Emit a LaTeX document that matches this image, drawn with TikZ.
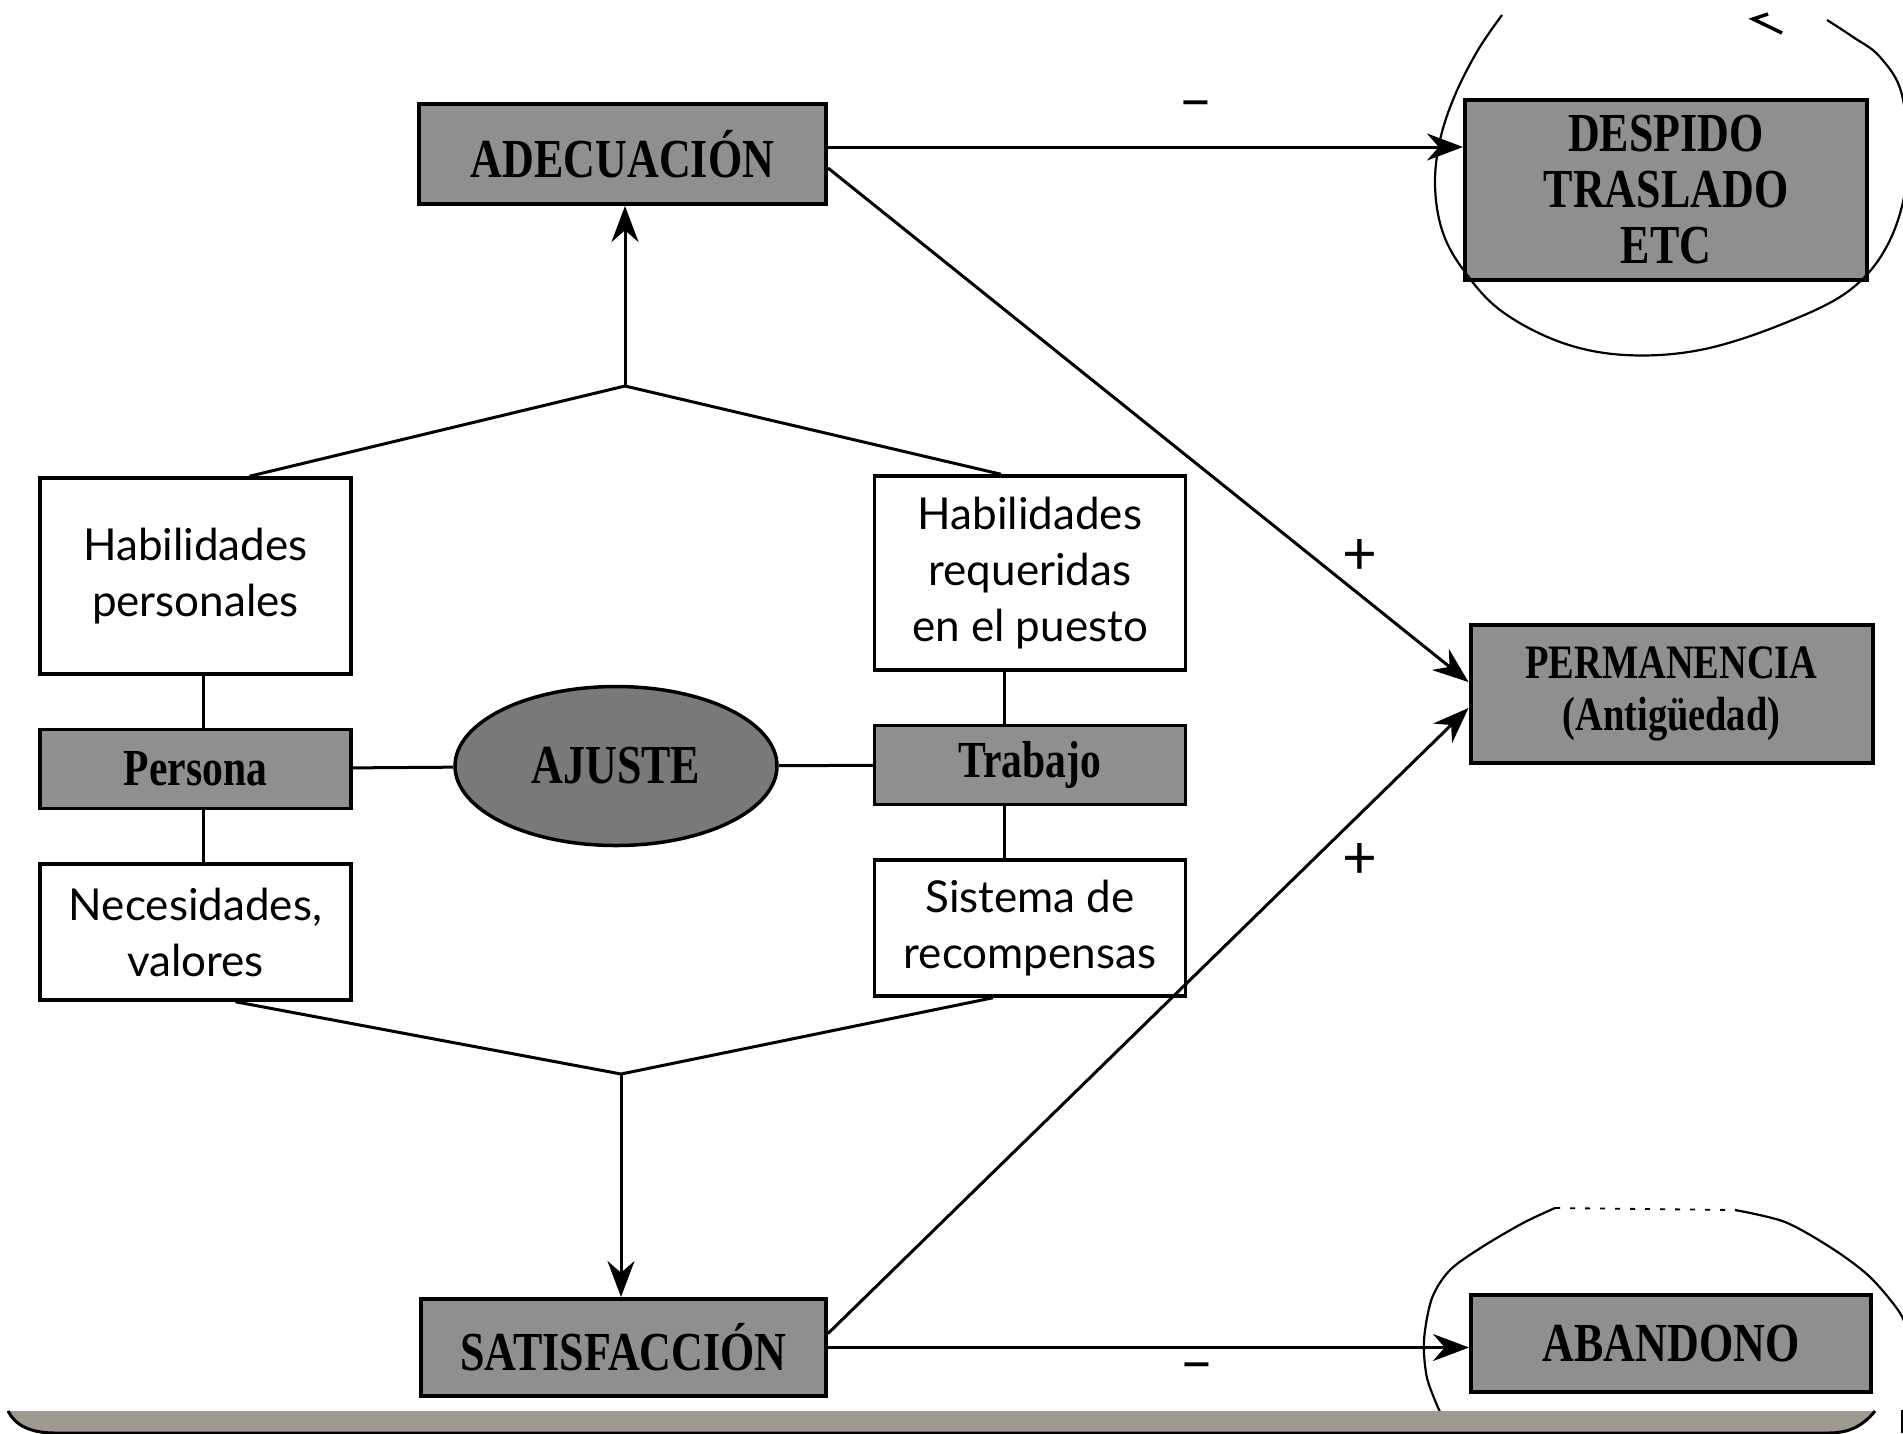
\documentclass[tikz,border=0pt]{standalone}
\usepackage{fontspec}
\usetikzlibrary{positioning, shapes.geometric, arrows.meta}

\newfontfamily\headfont[FakeStretch=0.8]{Liberation Serif}
\newfontfamily\boxfont{Lato}
\definecolor{headgrey}{gray}{0.56}
\definecolor{bandgrey}{HTML}{9E9A90}

\begin{document}
\begin{tikzpicture}[
  x=1pt, y=-1pt,
  line width=3pt,
  head/.style={
    draw,
    line width=4pt,
    fill=headgrey,
    align=center,
    inner sep=0pt,
    font=\headfont\bfseries\fontsize{55}{56}\selectfont
  },
  result/.style={head, minimum width=402pt},
  factor/.style={
    draw,
    line width=3.5pt,
    fill=headgrey,
    minimum width=311pt,
    minimum height=79pt,
    font=\headfont\bfseries\fontsize{52}{54}\selectfont
  },
  trait/.style={
    draw,
    line width=3.5pt,
    fill=white,
    align=center,
    minimum width=311pt,
    font=\boxfont\fontsize{44}{56}\selectfont
  },
  sign/.style={font=\boxfont\fontsize{60}{60}\selectfont},
  handloop/.style={line width=2.2pt},
  >={Stealth[length=36pt, width=27pt]},
  node distance=52pt
]
\useasboundingbox (0,0) rectangle (1903,1433);

% Adecuacion
\node[head, minimum width=407pt, minimum height=100pt] (adecuacion) at (622.5,154) {ADECUACIÓN};

% Despido
\node[result, minimum height=180pt] (despido) at (1666,190) {DESPIDO\\TRASLADO\\ETC};

% Permanencia
\node[result, minimum height=138pt,
  font=\headfont\bfseries\fontsize{48}{52}\selectfont] (permanencia) at (1671.5,694) {PERMANENCIA\\(Antigüedad)};

% Satisfaccion
\node[head, minimum width=405pt, minimum height=97pt] (satisfaccion) at (623.5,1347.5) {SATISFACCIÓN};

% Abandono
\node[result, minimum width=400pt, minimum height=97pt] (abandono) at (1671,1343.5) {ABANDONO};

% Persona
\node[trait, minimum height=196pt] (habper) at (195.5,576) {Habilidades\\personales};
\node[factor, below=of habper] (persona) {Persona};
\node[trait, minimum height=136pt, below=of persona] (necesidades) {Necesidades,\\valores};

% Trabajo
\node[trait, minimum height=194pt] (habreq) at (1030,573) {Habilidades\\requeridas\\en el puesto};
\node[factor, below=of habreq] (trabajo) {Trabajo};
\node[trait, minimum height=136pt, below=of trabajo] (sistema) {Sistema de\\recompensas};

% Ajuste
\node[ellipse, draw, line width=3.5pt, fill=headgrey!85!black, inner sep=0pt,
  minimum width=322pt, minimum height=159pt,
  font=\headfont\bfseries\fontsize{55}{56}\selectfont] (ajuste) at (616,766) {AJUSTE};

\coordinate (topjoin) at (625,386);
\coordinate (botjoin) at (621,1074);
\coordinate (leftcol) at (203,0);
\coordinate (rightcol) at (1004,0);

% Links
\draw (habper.south -| leftcol) -- (persona.north -| leftcol);
\draw (persona.south -| leftcol) -- (necesidades.north -| leftcol);
\draw (habreq.south -| rightcol) -- (trabajo.north -| rightcol);
\draw (trabajo.south -| rightcol) -- (sistema.north -| rightcol);
\draw (persona) -- (ajuste);
\draw (ajuste) -- (trabajo);
\draw ([xshift=54pt]habper.north) -- (topjoin) -- ([xshift=-29pt]habreq.north);
\draw[->] (topjoin) -- (adecuacion.south -| topjoin);
\draw ([xshift=40pt]necesidades.south) -- (botjoin) -- ([xshift=-37pt]sistema.south);
\draw[->] (botjoin) -- (satisfaccion.north -| botjoin);

% Outcomes
\draw[->] ([yshift=7pt]adecuacion.east) -- ([yshift=7pt]adecuacion.east -| despido.west)
  node[sign, pos=0.58, yshift=36pt] {–};
\draw[->] ([yshift=-14pt]adecuacion.east) -- ([yshift=12pt]permanencia.west)
  node[sign, pos=0.83, yshift=38pt] {+};
\draw[->] ([yshift=14pt]satisfaccion.east) -- ([yshift=-14pt]permanencia.west)
  node[sign, pos=0.83, yshift=-47pt] {+};
\draw[->] (satisfaccion.east) -- (satisfaccion.east -| abandono.west)
  node[sign, pos=0.575, yshift=-25pt] {–};

% hand drawn rings
\draw[handloop] plot[smooth, tension=0.6] coordinates {(1502,15) (1478,50) (1455,95) (1440,140)
  (1435,185) (1442,230) (1462,268) (1500,310) (1560,342) (1625,355) (1700,350) (1780,325)
  (1850,290) (1890,240) (1908,170) (1902,95) (1880,57) (1853,37) (1827,20)};
\draw[line width=3.5pt] (1768,14) -- (1753,19) -- (1782,33);
\draw[handloop] plot[smooth] coordinates {(1440,1412) (1427,1378) (1424,1340) (1432,1298)
  (1450,1270) (1482,1247) (1523,1223) (1555,1208)};
\draw[line width=1.8pt, dash pattern=on 5pt off 10pt] (1555,1208) -- (1735,1210);
\draw[handloop] plot[smooth] coordinates {(1735,1210) (1785,1222) (1833,1249) (1870,1277)
  (1900,1313) (1910,1340)};
\draw[handloop] (1902,1410) -- (1902,1433);

% bottom band
\fill[bandgrey] (8,1411) -- (1875,1411) .. controls (1862,1427) and (1848,1433) .. (1828,1433)
  -- (55,1433) .. controls (30,1433) and (15,1425) .. (8,1411) -- cycle;
\draw[line width=3pt] (8,1411) .. controls (15,1425) and (30,1433) .. (55,1433) -- (1828,1433)
  .. controls (1848,1433) and (1862,1427) .. (1875,1411);

\end{tikzpicture}
\end{document}
